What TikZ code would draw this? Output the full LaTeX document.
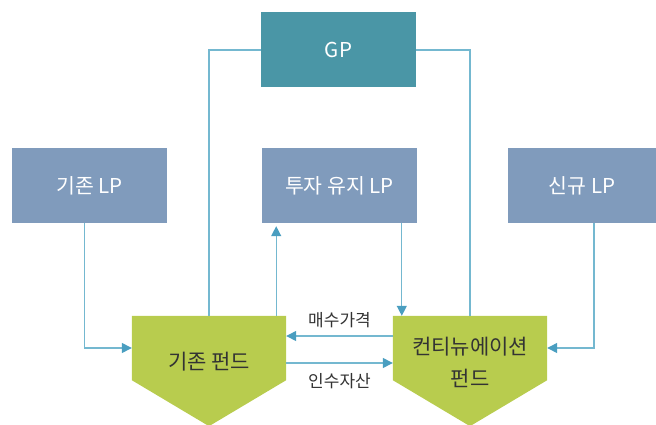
\documentclass[tikz,border=0pt]{standalone}
\usepackage{fontspec}
\setmainfont{Noto Sans CJK KR}
\usetikzlibrary{arrows.meta,calc}
\definecolor{gpc}{HTML}{4A96A6}
\definecolor{lpc}{HTML}{809BBC}
\definecolor{fundc}{HTML}{B8CC4E}
\definecolor{linec}{HTML}{74B8D0}
\definecolor{tipc}{HTML}{4A9EC0}
\definecolor{darktext}{HTML}{333333}
\tikzset{
  x=1pt, y=-1pt,
  box/.style={minimum width=155pt, minimum height=75pt, inner sep=0pt, text=white, font=\fontsize{20.5}{24}\selectfont},
  gpbox/.style={box, fill=gpc},
  lpbox/.style={box, fill=lpc},
  fundbody/.style={minimum width=154pt, minimum height=64pt, inner sep=0pt},
  fundtext/.style={text=darktext, font=\fontsize{21}{32}\selectfont, align=center},
  lbl/.style={text=darktext, font=\fontsize{17}{20}\selectfont},
  conn/.style={draw=linec, line width=1.3pt},
  arr/.style={conn, -{Triangle[length=10pt,width=10pt,color=tipc]}},
}
\begin{document}
\begin{tikzpicture}
\useasboundingbox (0,0) rectangle (656,425);
% boxes
\node[gpbox] (gp) at (338.5,50) {GP};
\node[lpbox] (lp1) at (89.5,185.5) {기존 LP};
\node[lpbox] (lp2) at (339.5,185.5) {투자 유지 LP};
\node[lpbox, minimum width=148pt] (lp3) at (582,185.5) {신규 LP};
% funds
\node[fundbody] (f1) at (209,348) {};
\node[fundbody] (f2) at (470,348) {};
\fill[fundc] (f1.north west) -- (f1.north east) -- (f1.south east) -- ($(f1.south)+(0,46)$) -- (f1.south west) -- cycle;
\fill[fundc] (f2.north west) -- (f2.north east) -- (f2.south east) -- ($(f2.south)+(0,46)$) -- (f2.south west) -- cycle;
\node[fundtext] (f1t) at (209,362) {기존 펀드};
\node[fundtext] (f2t) at (470,362) {컨티뉴에이션\\펀드};
% connectors
\draw[conn] (gp.west) -| (f1.north);
\draw[conn] (gp.east) -| (f2.north);
\draw[arr] ($(lp1.south)+(-5,0)$) |- (f1.west);
\draw[arr] ($(lp3.south)+(12,0)$) |- (f2.east);
\coordinate (f1up) at ($(f1.north east)+(-10,0)$);
\draw[arr, shorten >=3pt] (f1up) -- (f1up |- lp2.south);
\coordinate (f2in) at ($(f2.north west)+(9,0)$);
\draw[arr] (f2in |- lp2.south) -- (f2in);
\draw[arr] ($(f2.west)+(0,-12)$) -- ($(f1.east)+(0,-12)$);
\draw[arr] ($(f1.east)+(0,15)$) -- ($(f2.west)+(0,15)$);
\node[lbl] (buy) at (339.5,320) {매수가격};
\node[lbl] (acq) at (339.5,381) {인수자산};
\end{tikzpicture}
\end{document}
